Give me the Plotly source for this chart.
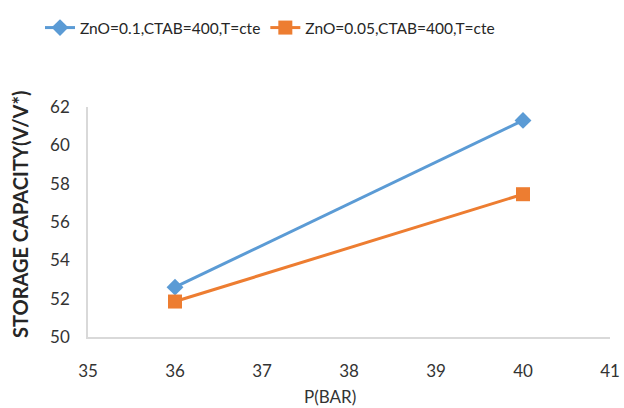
import plotly.graph_objects as go

pressure = [36, 40]
zno_01 = [52.6, 61.3]
zno_005 = [51.85, 57.45]
names = ["ZnO=0.1,CTAB=400,T=cte", "ZnO=0.05,CTAB=400,T=cte"]
x_title = "P(BAR)"
y_title = "STORAGE CAPACITY(V/V*)"

fig = go.Figure()
fig.add_trace(go.Scatter(x=pressure, y=zno_01, name=names[0], mode="lines+markers",
                         line=dict(color="#5B9BD5", width=3),
                         marker=dict(symbol="diamond", size=13, color="#5B9BD5")))
fig.add_trace(go.Scatter(x=pressure, y=zno_005, name=names[1], mode="lines+markers",
                         line=dict(color="#ED7D31", width=3),
                         marker=dict(symbol="square", size=14, color="#ED7D31")))

font = "Lato, 'Open Sans', sans-serif"
L, R, T, B = 88, 14, 107, 71
W, H = 624, 408
pw, ph = W - L - R, H - T - B
fig.update_layout(
    width=W, height=H,
    margin=dict(l=L, r=R, t=T, b=B, autoexpand=False),
    paper_bgcolor="white", plot_bgcolor="white",
    font=dict(family=font, size=16, color="#262626"),
    legend=dict(orientation="h", x=(270 - L) / pw, xanchor="center", y=1 - 28 / H, yanchor="middle",
                yref="container", font=dict(size=15.5, color="#262626"),
                bgcolor="rgba(0,0,0,0)"),
    xaxis=dict(range=[35, 41], dtick=1, showgrid=False, zeroline=False, automargin=False,
               showline=True, linecolor="#D9D9D9", linewidth=1.5,
               ticks="", ticklabelstandoff=18, tickfont=dict(size=17, color="#333333")),
    yaxis=dict(range=[50, 62], dtick=2, showgrid=False, zeroline=False, automargin=False,
               showline=True, linecolor="#D9D9D9", linewidth=1.5,
               ticks="", ticklabelstandoff=13, tickfont=dict(size=17, color="#333333")),
    annotations=[
        dict(text=x_title, xref="paper", yref="paper", x=(330 - L) / pw, y=-(396 - T - ph) / ph,
             xanchor="center", yanchor="middle", showarrow=False,
             font=dict(size=17, color="#333333")),
        dict(text="<b>" + y_title + "</b>", xref="paper", yref="paper", x=(20 - L) / pw,
             y=(H - B - 215) / ph, textangle=-90, xanchor="center", yanchor="middle",
             showarrow=False, font=dict(size=20, color="#262626")),
    ],
)
fig.write_html("out.html", config={"displayModeBar": False},
               post_script="document.body.style.margin='0';document.body.style.overflow='hidden';")
